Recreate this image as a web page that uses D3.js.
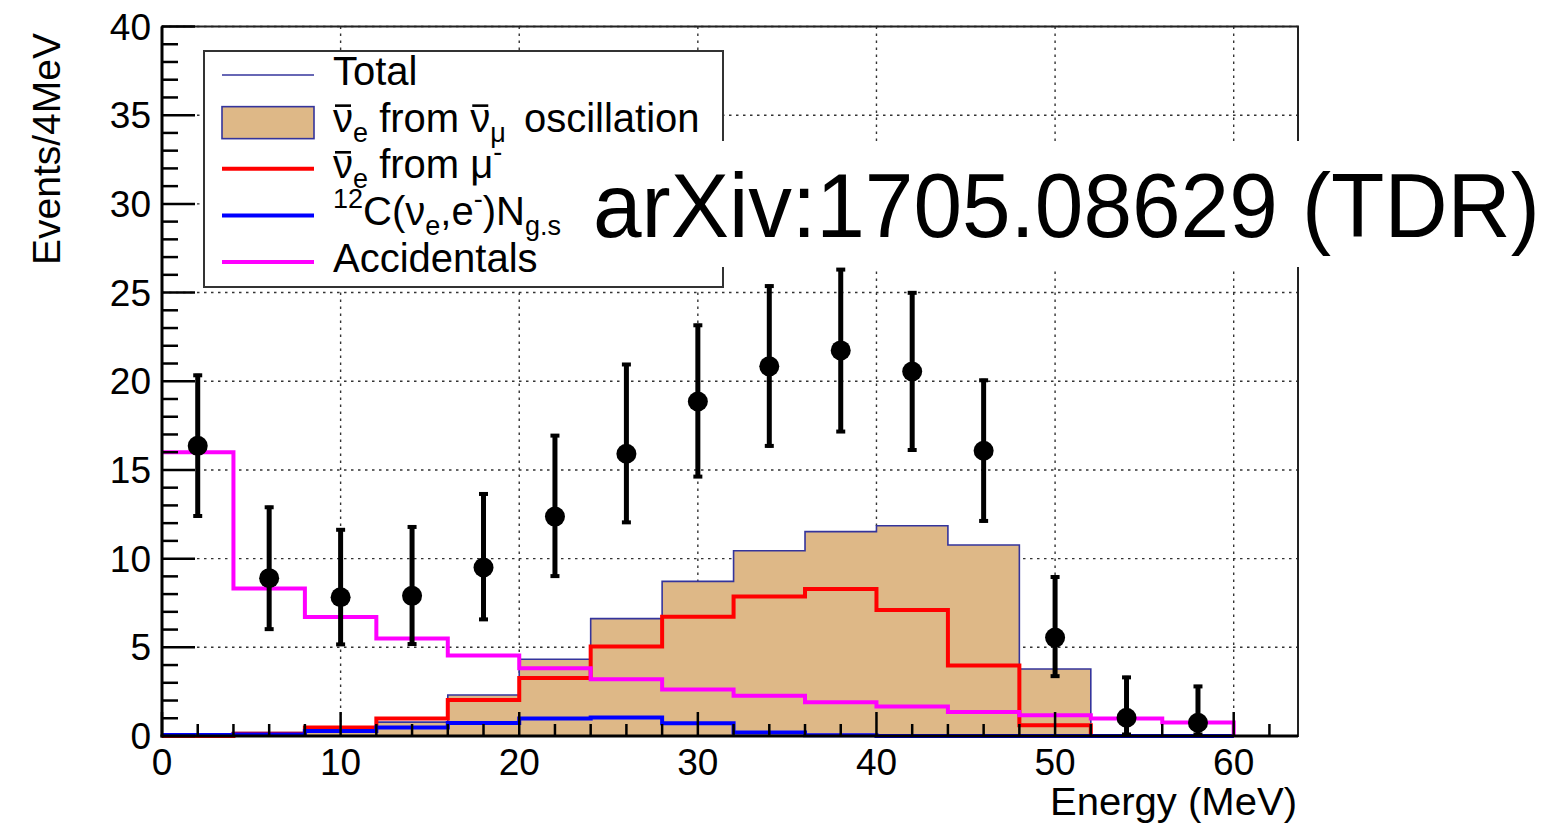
<!DOCTYPE html>
<html><head><meta charset="utf-8">
<script src="https://cdn.jsdelivr.net/npm/d3@7"></script>
<style>
body{margin:0;background:#fff;}
svg{display:block;font-family:"Liberation Sans",Arial,Helvetica,sans-serif;}
text{white-space:pre;}
</style>
</head><body>
<svg id="c" width="1553" height="827"></svg>
<script>
// ---- data (Events / 4 MeV) ----
const binEdges = [0,4,8,12,16,20,24,28,32,36,40,44,48,52,56,60];
const binCenters = [2,6,10,14,18,22,26,30,34,38,42,46,50,54,58];
const oscillation = [0.1,0.2,0.35,0.78,2.31,4.33,6.62,8.72,10.44,11.52,11.85,10.77,3.78,0,0];
const muDecay = [0,0.12,0.48,0.98,2.03,3.27,5.04,6.73,7.87,8.29,7.1,3.98,0.6,0,0];
const carbon = [0.05,0.08,0.28,0.48,0.73,0.98,1.05,0.72,0.2,0.04,0,0,0,0,0];
const accidentals = [16.0,8.31,6.71,5.5,4.54,3.82,3.2,2.62,2.27,1.9,1.67,1.35,1.17,0.99,0.76];
const dataValues = [16.36,8.9,7.82,7.9,9.5,12.37,15.91,18.86,20.84,21.74,20.55,16.08,5.55,1.03,0.75];
const errHigh = [20.42,12.98,11.71,11.87,13.73,17.02,21.03,23.24,25.45,26.38,25.07,20.14,9.05,3.39,2.88];
const errLow = [12.32,5.94,5.08,5.1,6.49,8.93,11.96,14.54,16.27,17.08,16.04,12.04,3.29,0,0];
const yTicks = [0,5,10,15,20,25,30,35,40];
const xTicks = [0,10,20,30,40,50,60];
const yMinor = d3.range(0,40.01,1);
const xMinor = d3.range(0,63.01,2);

const svg = d3.select("#c");
const x = d3.scaleLinear().domain([0,63.6]).range([162,1298]);
const y = d3.scaleLinear().domain([0,40]).range([736,26.5]);

const NAVY = "#34349c", TAN = "#deb887";

// grid
const grid = svg.append("g").attr("stroke","#333").attr("stroke-width",1.4).attr("stroke-dasharray","2.5,4.5");
grid.selectAll("line.gy").data(yTicks.filter(d=>d>0)).join("line")
  .attr("x1",x(0)).attr("x2",x(63.6)).attr("y1",d=>y(d)).attr("y2",d=>y(d));
grid.selectAll("line.gx").data(xTicks.filter(d=>d>0)).join("line")
  .attr("y1",y(0)).attr("y2",y(40)).attr("x1",d=>x(d)).attr("x2",d=>x(d));

function pts(vals){ return binEdges.map((e,i)=>[e, vals[Math.min(i,vals.length-1)]]); }
const lineGen = d3.line().x(d=>x(d[0])).y(d=>y(d[1])).curve(d3.curveStepAfter);
const areaGen = d3.area().x(d=>x(d[0])).y0(y(0)).y1(d=>y(d[1])).curve(d3.curveStepAfter);

// oscillation (filled)
svg.append("path").attr("d",areaGen(pts(oscillation))).attr("fill",TAN);
svg.append("path").attr("d",lineGen(pts(oscillation).concat([[60,0]]))).attr("fill","none").attr("stroke",NAVY).attr("stroke-width",1.6);

function hist(vals,color){
  svg.append("path").attr("d",lineGen(pts(vals).concat([[60,0]]))).attr("fill","none")
    .attr("stroke",color).attr("stroke-width",4);
}
hist(muDecay,"#ff0000");
hist(carbon,"#0000ff");
hist(accidentals,"#ff00ff");

// data points
const dp = svg.append("g");
dp.selectAll("line.eb").data(binCenters).join("line")
  .attr("x1",d=>x(d)).attr("x2",d=>x(d))
  .attr("y1",(d,i)=>y(errLow[i])).attr("y2",(d,i)=>y(errHigh[i]))
  .attr("stroke","#000").attr("stroke-width",5);
dp.selectAll("line.ch").data(binCenters).join("line")
  .attr("x1",d=>x(d)-4.5).attr("x2",d=>x(d)+4.5)
  .attr("y1",(d,i)=>y(errHigh[i])+1.5).attr("y2",(d,i)=>y(errHigh[i])+1.5)
  .attr("stroke","#000").attr("stroke-width",4);
dp.selectAll("line.cl").data(binCenters).join("line")
  .attr("x1",d=>x(d)-4.5).attr("x2",d=>x(d)+4.5)
  .attr("y1",(d,i)=>y(errLow[i])-1.5).attr("y2",(d,i)=>y(errLow[i])-1.5)
  .attr("stroke","#000").attr("stroke-width",4);
dp.selectAll("circle").data(binCenters).join("circle")
  .attr("cx",d=>x(d)).attr("cy",(d,i)=>y(dataValues[i])).attr("r",10).attr("fill","#000");

// frame
svg.append("rect").attr("x",x(0)).attr("y",y(40)).attr("width",x(63.6)-x(0)).attr("height",y(0)-y(40))
  .attr("fill","none").attr("stroke","#222").attr("stroke-width",2);
svg.append("line").attr("x1",x(0)).attr("x2",x(0)).attr("y1",y(40)).attr("y2",y(0)+1.5).attr("stroke","#000").attr("stroke-width",3);
svg.append("line").attr("x1",x(0)-1.5).attr("x2",x(63.6)).attr("y1",y(0)).attr("y2",y(0)).attr("stroke","#000").attr("stroke-width",3);

// ticks
const tk = svg.append("g").attr("stroke","#000").attr("stroke-width",2.5);
tk.selectAll("line.ym").data(yMinor).join("line")
  .attr("x1",x(0)).attr("x2",d=>x(0)+(d%5===0?33:16)).attr("y1",d=>y(d)).attr("y2",d=>y(d));
tk.selectAll("line.xm").data(xMinor).join("line")
  .attr("y1",y(0)).attr("y2",d=>y(0)-(d%10===0?24:12)).attr("x1",d=>x(d)).attr("x2",d=>x(d));

// tick labels
svg.append("g").selectAll("text").data(yTicks).join("text")
  .attr("x",151).attr("y",d=>y(d)+13).attr("text-anchor","end").attr("font-size",37).text(d=>d);
svg.append("g").selectAll("text").data(xTicks).join("text")
  .attr("x",d=>x(d)).attr("y",775).attr("text-anchor","middle").attr("font-size",37).text(d=>d);

// axis titles
svg.append("text").attr("x",1297).attr("y",815).attr("text-anchor","end").attr("font-size",38)
  .attr("textLength",247).attr("lengthAdjust","spacingAndGlyphs").text("Energy (MeV)");
svg.append("text").attr("transform","translate(60,33) rotate(-90)").attr("text-anchor","end").attr("font-size",38)
  .attr("textLength",232).attr("lengthAdjust","spacingAndGlyphs").text("Events/4MeV");

// legend
const lg = svg.append("g");
lg.append("rect").attr("x",204).attr("y",51).attr("width",519).attr("height",236)
  .attr("fill","#fff").attr("stroke","#333").attr("stroke-width",2);
const base = i => 85 + 46.65*i;
const legendColors = [NAVY, TAN, "#ff0000", "#0000ff", "#ff00ff"];
lg.append("line").attr("x1",222).attr("x2",314).attr("y1",base(0)-10).attr("y2",base(0)-10).attr("stroke",NAVY).attr("stroke-width",1.6);
lg.append("rect").attr("x",222).attr("y",base(1)-25).attr("width",92).attr("height",32).attr("fill",TAN).attr("stroke",NAVY).attr("stroke-width",1.6);
[2,3,4].forEach(i=>lg.append("line").attr("x1",222).attr("x2",314).attr("y1",base(i)-9.5).attr("y2",base(i)-9.5).attr("stroke",legendColors[i]).attr("stroke-width",4));

const legendLabels = [
  [["Total"]],
  [["ν","nu"],["e","sub"],[" from "],["ν","nu"],["μ","sub"],[" oscillation","",7]],
  [["ν","nu"],["e","sub"],[" from μ"],["-","sup"]],
  [["12","sup"],["C(ν"],["e","sub"],[",e"],["-","sup"],[")N"],["g.s","sub"]],
  [["Accidentals"]]
];
const nuSpans = [];
legendLabels.forEach((parts,i)=>{
  const t = lg.append("text").attr("x",333).attr("y",base(i)).attr("font-size",40);
  let shift = 0;
  parts.forEach(([s,k,dx])=>{
    let target = k==="sub"?10:(k==="sup"?-17:0);
    const sp = t.append("tspan").attr("dy",target-shift).text(s);
    if(dx) sp.attr("dx",dx);
    if(k==="sub"||k==="sup") sp.attr("font-size",27);
    shift = target;
    if(k==="nu") nuSpans.push({node:sp.node(), b:base(i)});
  });
});
nuSpans.forEach(o=>{
  const bb = o.node.getBBox();
  lg.append("line").attr("x1",bb.x+2).attr("x2",bb.x+bb.width-2).attr("y1",o.b-26).attr("y2",o.b-26)
    .attr("stroke","#000").attr("stroke-width",2.6);
});

// arXiv stamp
svg.append("rect").attr("x",583).attr("y",141).attr("width",970).attr("height",126).attr("fill","#fff");
svg.append("text").attr("transform","translate(593,237) scale(0.96,1)").attr("font-size",91)
  .text("arXiv:1705.08629 (TDR)");
</script>
</body></html>
